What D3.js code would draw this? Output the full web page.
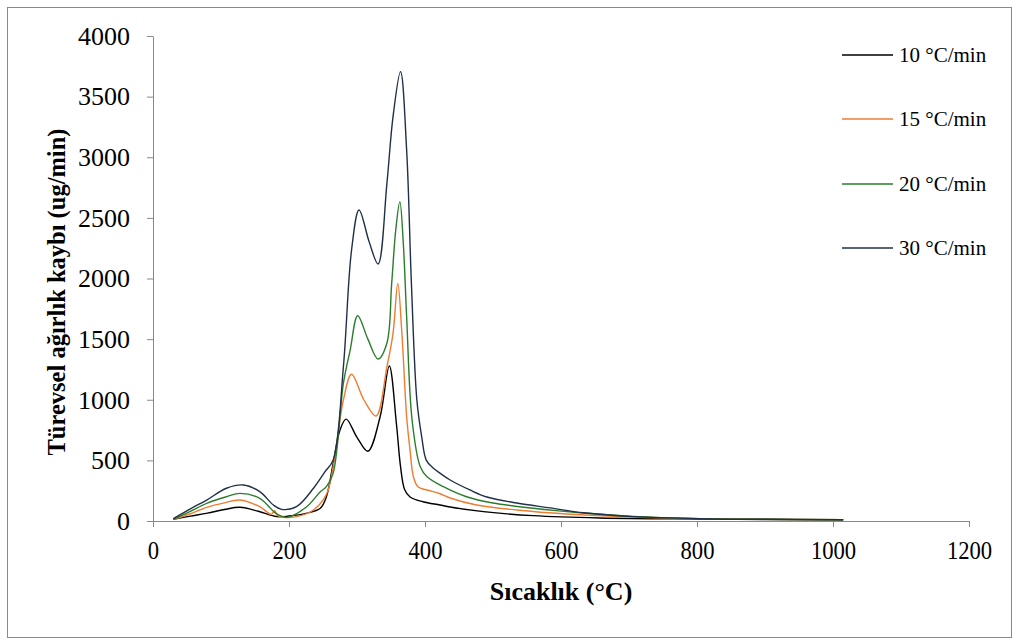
<!DOCTYPE html>
<html>
<head>
<meta charset="utf-8">
<script src="https://cdn.jsdelivr.net/npm/d3@7"></script>
<style>
  body { margin: 0; background: #fff; }
  svg { font-family: "Liberation Serif", "Times New Roman", serif; }
  .axis path, .axis line { stroke: #898989; }
  .axis text { fill: #000; }
</style>
</head>
<body>
<div id="chart"></div>
<script>
// data (temperature in C, rate in ug/min)
var t10 = [30, 55, 80, 105, 128, 155, 182, 200, 225, 246, 255, 265, 275, 284, 300, 316, 334, 347.5, 358, 364, 370, 378, 397, 422, 437, 486, 559, 657, 804, 900, 1015];
var v10 = [14, 40, 65, 95, 113, 80, 36, 41, 63, 105, 200, 478, 750, 840, 690, 575, 860, 1278, 800, 450, 260, 198, 159, 132, 115, 77, 44, 25, 16, 12, 10];

var t15 = [30, 55, 79, 105, 128, 157, 174, 179, 183, 192, 211, 236, 255, 265, 280, 292, 310, 328, 344, 353, 360, 366, 373, 378, 383, 390, 403, 422, 437, 476, 535, 608, 706, 804, 900, 1015];
var v15 = [14, 60, 113, 150, 173, 118, 55, 85, 45, 30, 36, 91, 220, 448, 998, 1210, 1000, 866, 1272, 1548, 1960, 1548, 860, 585, 365, 280, 256, 225, 190, 132, 91, 58, 33, 20, 14, 10];

var t20 = [30, 55, 79, 108, 128, 157, 182, 197, 226, 246, 255, 265, 280, 290, 301, 316, 331, 344, 351, 357, 363, 368, 373, 381, 393, 403, 427, 461, 500, 559, 633, 706, 804, 900, 1015];
var v20 = [14, 80, 146, 200, 228, 187, 58, 30, 118, 242, 283, 395, 1136, 1410, 1693, 1500, 1336, 1468, 1960, 2400, 2634, 2300, 1685, 833, 448, 365, 283, 200, 148, 105, 66, 38, 20, 14, 10];

var t30 = [30, 55, 79, 108, 133, 157, 177, 189, 211, 236, 253, 265, 280, 292, 303, 318, 331, 344, 353, 364, 373, 380, 388, 395, 402, 412, 422, 437, 466, 491, 535, 584, 633, 706, 804, 900, 1015];
var v30 = [20, 100, 173, 270, 297, 242, 132, 96, 118, 270, 407, 503, 1272, 2235, 2565, 2300, 2120, 2785, 3335, 3706, 3060, 1960, 1000, 700, 500, 437, 395, 338, 256, 198, 148, 108, 68, 36, 19, 14, 10];

var seriesNames = ["10 °C/min", "15 °C/min", "20 °C/min", "30 °C/min"];
var seriesColors = ["#000000", "#ED7D31", "#2B7D2B", "#1F3048"];
var xTicks = [0, 200, 400, 600, 800, 1000, 1200];
var yTicks = [0, 500, 1000, 1500, 2000, 2500, 3000, 3500, 4000];

var temps = [t10, t15, t20, t30];
var vals = [v10, v15, v20, v30];

var W = 1012, H = 639;
var margin = {top: 36, left: 153},
    width = 816,
    height = 485;

var svg = d3.select("#chart").append("svg")
    .attr("width", W)
    .attr("height", H);

// outer frame
svg.append("rect")
    .attr("x", 7.5).attr("y", 7.5)
    .attr("width", 1004).attr("height", 630)
    .attr("fill", "none")
    .attr("stroke", "#898989")
    .attr("stroke-width", 1);

var g = svg.append("g")
    .attr("transform", "translate(" + margin.left + "," + margin.top + ")");

var x = d3.scaleLinear().domain([0, 1200]).range([0, width]);
var y = d3.scaleLinear().domain([0, 4000]).range([height, 0]);

// axes
g.append("g")
    .attr("class", "axis")
    .attr("transform", "translate(0," + height + ")")
    .call(d3.axisBottom(x).tickValues(xTicks).tickFormat(d3.format("d"))
        .tickSize(6).tickSizeOuter(0).tickPadding(14))
    .attr("font-family", "Liberation Serif")
    .attr("font-size", 26)
    .selectAll("text")
    .attr("transform", "scale(0.87,1)");

g.append("g")
    .attr("class", "axis")
    .call(d3.axisLeft(y).tickValues(yTicks).tickFormat(d3.format("d"))
        .tickSize(6).tickSizeOuter(0).tickPadding(17))
    .attr("font-family", "Liberation Serif")
    .attr("font-size", 26);

// curves
var line = d3.line()
    .x(function (d) { return x(d[0]); })
    .y(function (d) { return y(d[1]); })
    .curve(d3.curveCatmullRom.alpha(0.5));

temps.forEach(function (ts, i) {
    var pts = ts.map(function (t, j) { return [t, vals[i][j]]; });
    g.append("path")
        .datum(pts)
        .attr("fill", "none")
        .attr("stroke", seriesColors[i])
        .attr("stroke-width", 1.4)
        .attr("d", line);
});

// axis titles
svg.append("text")
    .attr("x", 561)
    .attr("y", 600)
    .attr("text-anchor", "middle")
    .attr("font-weight", "bold")
    .attr("font-size", "26px")
    .text("Sıcaklık (°C)");

svg.append("text")
    .attr("transform", "translate(65,292) rotate(-90)")
    .attr("text-anchor", "middle")
    .attr("font-weight", "bold")
    .attr("font-size", "24.5px")
    .text("Türevsel ağırlık kaybı (ug/min)");

// legend
var legendY = [55, 119, 184, 248];
seriesNames.forEach(function (name, i) {
    svg.append("line")
        .attr("x1", 842).attr("x2", 893)
        .attr("y1", legendY[i]).attr("y2", legendY[i])
        .attr("stroke", seriesColors[i])
        .attr("stroke-width", 1.4);
    svg.append("text")
        .attr("x", 899)
        .attr("y", legendY[i])
        .attr("dy", "0.35em")
        .attr("font-size", "21px")
        .text(name);
});
</script>
</body>
</html>
